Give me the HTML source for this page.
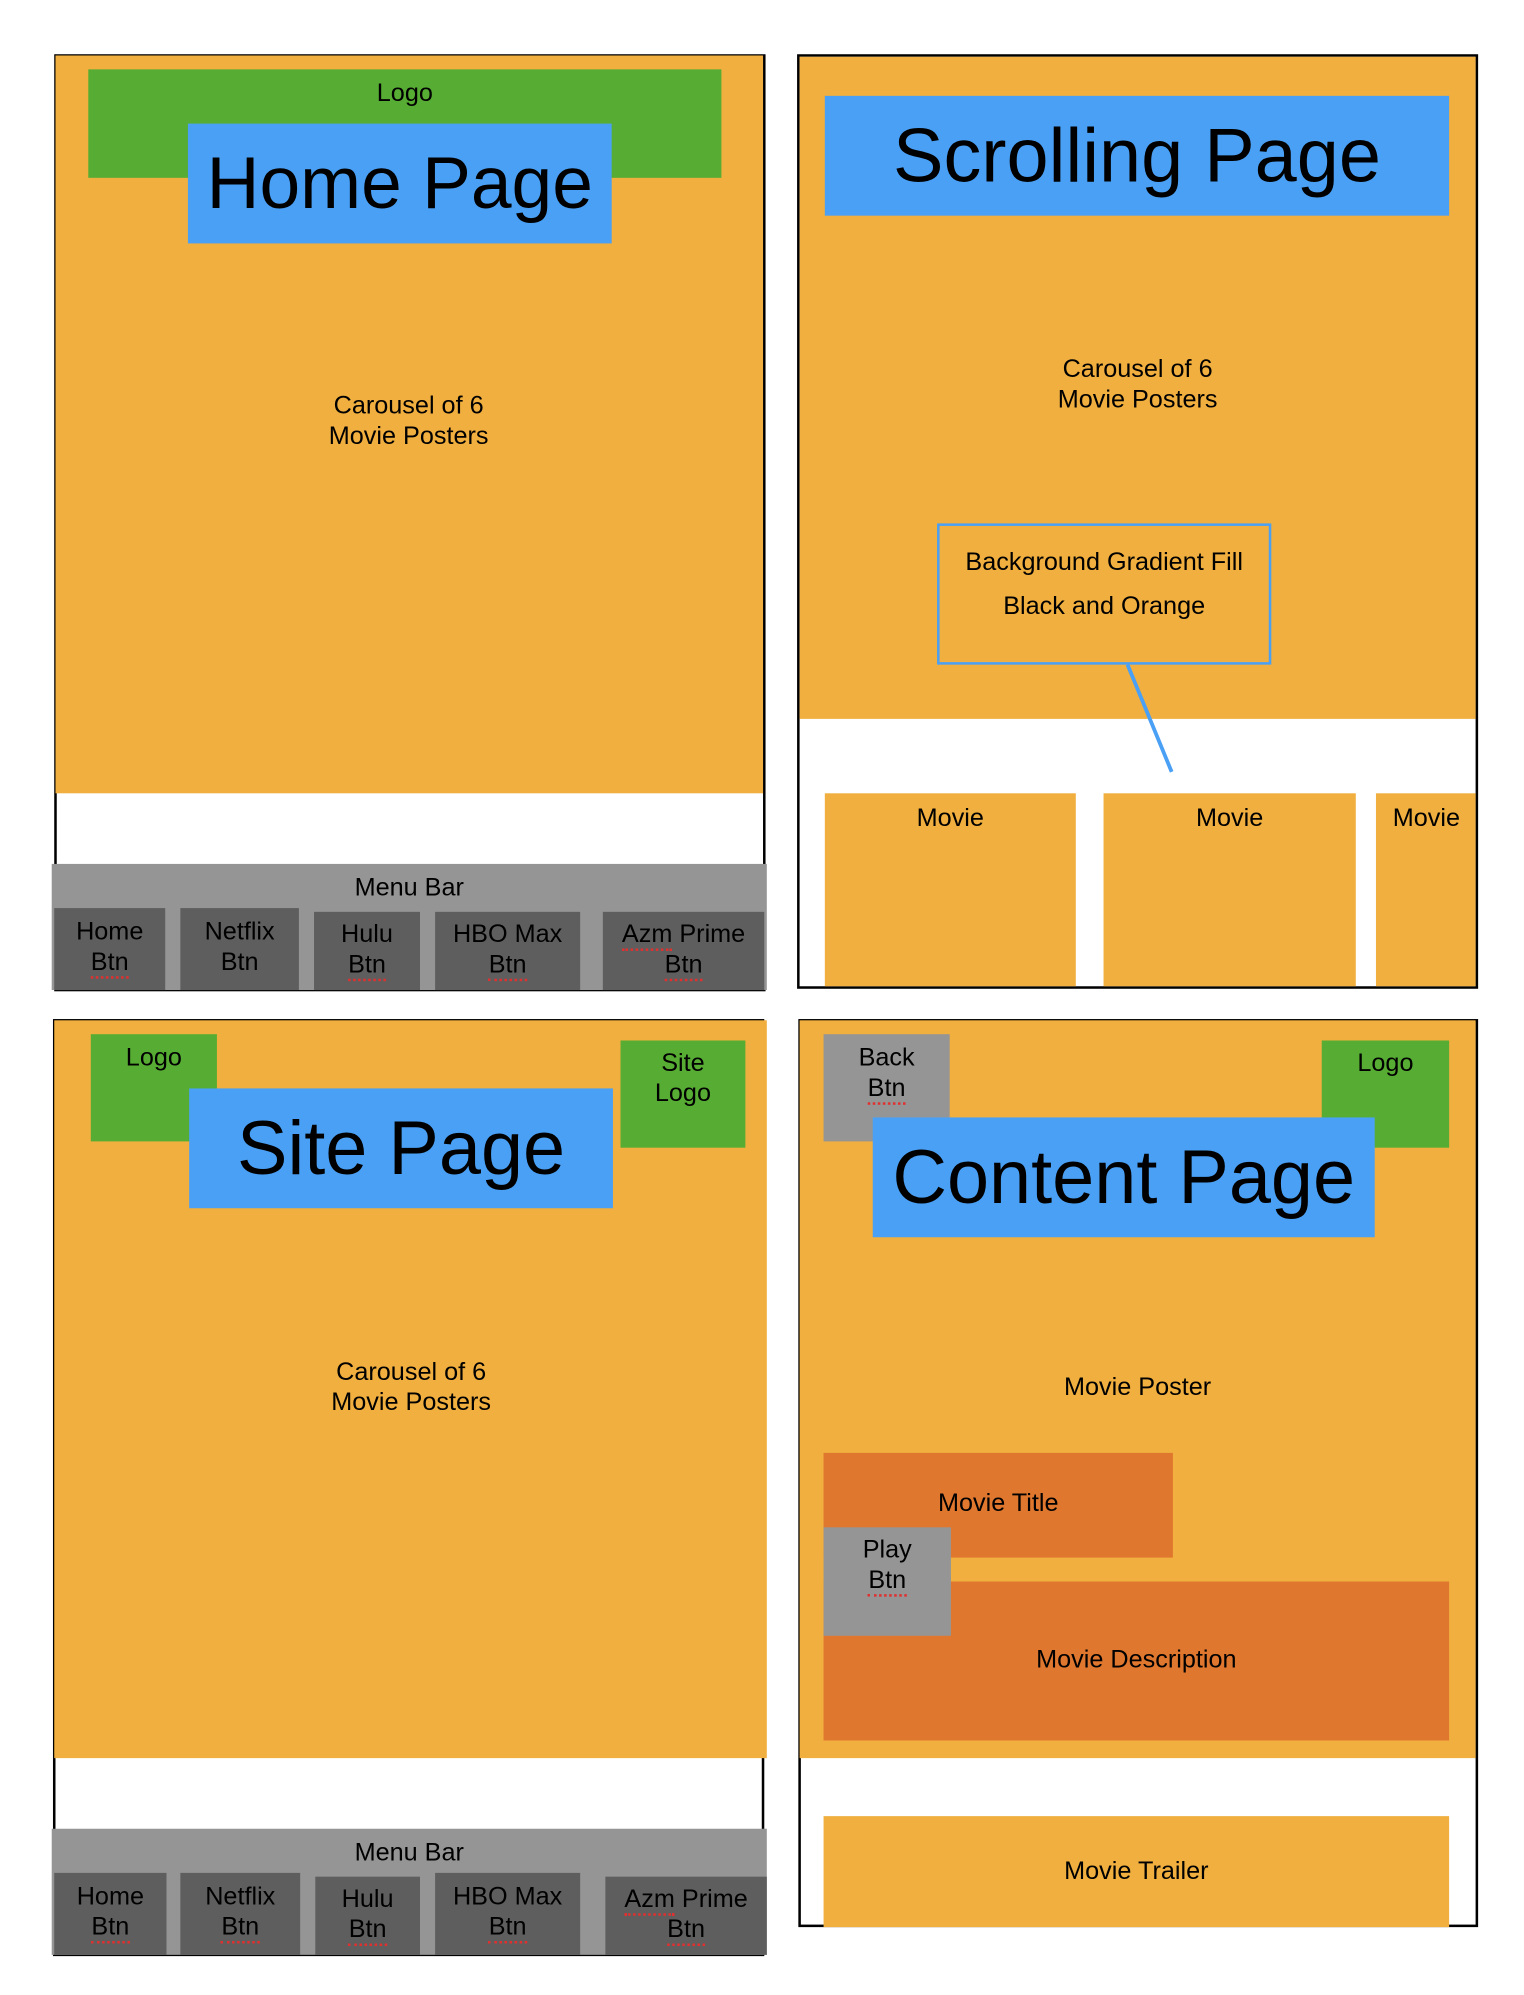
<!DOCTYPE html>
<html><head><meta charset="utf-8"><style>
html,body{margin:0;padding:0;background:#fff;width:1524px;height:1976px;overflow:hidden}
#c{position:absolute;left:0;top:0;width:1220px;height:1582px;transform:scale(1.2612);transform-origin:0 0;font-family:"Liberation Sans",Arial,sans-serif;color:#000}
#c div{position:absolute;box-sizing:border-box}
.fr{border:2px solid #000}
.o{background:#f0af3f}
.g{background:#57ad33}
.b{background:#4aa0f5}
.gr{background:#959595}
.dg{background:#5e5e5e}
.do{background:#e0772e}
.t{font-size:20px;line-height:24px;text-align:center;white-space:nowrap}
.h{font-size:60px;line-height:95px;text-align:center;white-space:nowrap}
u{text-decoration:none;border-bottom:2px dotted #e03030}
</style></head><body><div id="c">
<!-- Home page -->
<div class="fr" style="left:43px;top:43px;width:564px;height:743px"></div>
<div class="o" style="left:44px;top:44px;width:561px;height:585px"></div>
<div class="g" style="left:70px;top:55px;width:502px;height:86px"></div>
<div class="t" style="left:70px;top:62px;width:502px">Logo</div>
<div class="b h" style="left:149px;top:98px;width:336px;height:95px;font-size:58px">Home Page</div>
<div class="t" style="left:124px;top:310px;width:400px">Carousel of 6<br>Movie Posters</div>
<div class="gr" style="left:41px;top:685px;width:567px;height:100px"></div>
<div class="t" style="left:41px;top:692px;width:567px">Menu Bar</div>
<div class="dg t" style="left:43px;top:720px;width:88px;height:65px;padding-top:7px;color:#000">Home<br><u>Btn</u></div>
<div class="dg t" style="left:143px;top:720px;width:94px;height:65px;padding-top:7px">Netflix<br>Btn</div>
<div class="dg t" style="left:249px;top:723px;width:84px;height:62px;padding-top:6px">Hulu<br><u>Btn</u></div>
<div class="dg t" style="left:345px;top:723px;width:115px;height:62px;padding-top:6px">HBO Max<br><u>Btn</u></div>
<div class="dg t" style="left:478px;top:723px;width:128px;height:62px;padding-top:6px"><u>Azm</u> Prime<br><u>Btn</u></div>

<!-- Scrolling page -->
<div class="fr" style="left:632px;top:43px;width:540px;height:741px"></div>
<div class="o" style="left:634px;top:45px;width:536px;height:525px"></div>
<div class="b h" style="left:654px;top:76px;width:495px;height:95px">Scrolling Page</div>
<div class="t" style="left:702px;top:281px;width:400px">Carousel of 6<br>Movie Posters</div>
<div style="left:743px;top:415px;width:265px;height:112px;border:2px solid #4aa0f5"></div>
<div class="t" style="left:743px;top:434px;width:265px">Background Gradient Fill</div>
<div class="t" style="left:743px;top:469px;width:265px">Black and Orange</div>
<svg style="position:absolute;left:0;top:0" width="1220" height="1582"><line x1="894" y1="527" x2="929" y2="612" stroke="#4aa0f5" stroke-width="3"/></svg>
<div class="o" style="left:654px;top:629px;width:199px;height:153px"></div>
<div class="o" style="left:875px;top:629px;width:200px;height:153px"></div>
<div class="o" style="left:1091px;top:629px;width:79px;height:153px"></div>
<div class="t" style="left:654px;top:637px;width:199px">Movie</div>
<div class="t" style="left:875px;top:637px;width:200px">Movie</div>
<div class="t" style="left:1091px;top:637px;width:80px">Movie</div>

<!-- Site page -->
<div class="fr" style="left:42px;top:808px;width:564px;height:743px"></div>
<div class="o" style="left:43px;top:809px;width:565px;height:585px"></div>
<div class="g" style="left:72px;top:820px;width:100px;height:85px"></div>
<div class="t" style="left:72px;top:827px;width:100px">Logo</div>
<div class="g t" style="left:492px;top:825px;width:99px;height:85px;padding-top:6px">Site<br>Logo</div>
<div class="b h" style="left:150px;top:863px;width:336px;height:95px">Site Page</div>
<div class="t" style="left:126px;top:1076px;width:400px">Carousel of 6<br>Movie Posters</div>
<div class="gr" style="left:41px;top:1450px;width:567px;height:100px"></div>
<div class="t" style="left:41px;top:1457px;width:567px">Menu Bar</div>
<div class="dg t" style="left:43px;top:1485px;width:89px;height:65px;padding-top:7px">Home<br><u>Btn</u></div>
<div class="dg t" style="left:143px;top:1485px;width:95px;height:65px;padding-top:7px">Netflix<br><u>Btn</u></div>
<div class="dg t" style="left:250px;top:1488px;width:83px;height:62px;padding-top:6px">Hulu<br><u>Btn</u></div>
<div class="dg t" style="left:345px;top:1485px;width:115px;height:65px;padding-top:7px">HBO Max<br><u>Btn</u></div>
<div class="dg t" style="left:480px;top:1488px;width:128px;height:62px;padding-top:6px"><u>Azm</u> Prime<br><u>Btn</u></div>

<!-- Content page -->
<div class="fr" style="left:633px;top:808px;width:539px;height:720px"></div>
<div class="o" style="left:634px;top:809px;width:536px;height:585px"></div>
<div class="gr t" style="left:653px;top:820px;width:100px;height:85px;padding-top:7px">Back<br><u>Btn</u></div>
<div class="g" style="left:1048px;top:825px;width:101px;height:85px"></div>
<div class="t" style="left:1048px;top:831px;width:101px">Logo</div>
<div class="b h" style="left:692px;top:886px;width:398px;height:95px">Content Page</div>
<div class="t" style="left:702px;top:1088px;width:400px">Movie Poster</div>
<div class="do" style="left:653px;top:1152px;width:277px;height:83px"></div>
<div class="t" style="left:653px;top:1180px;width:277px">Movie Title</div>
<div class="do" style="left:653px;top:1254px;width:496px;height:126px"></div>
<div class="t" style="left:653px;top:1304px;width:496px">Movie Description</div>
<div class="gr t" style="left:653px;top:1211px;width:101px;height:86px;padding-top:6px">Play<br><u>Btn</u></div>
<div class="o" style="left:653px;top:1440px;width:496px;height:88px"></div>
<div class="t" style="left:653px;top:1472px;width:496px">Movie Trailer</div>
</div></body></html>
